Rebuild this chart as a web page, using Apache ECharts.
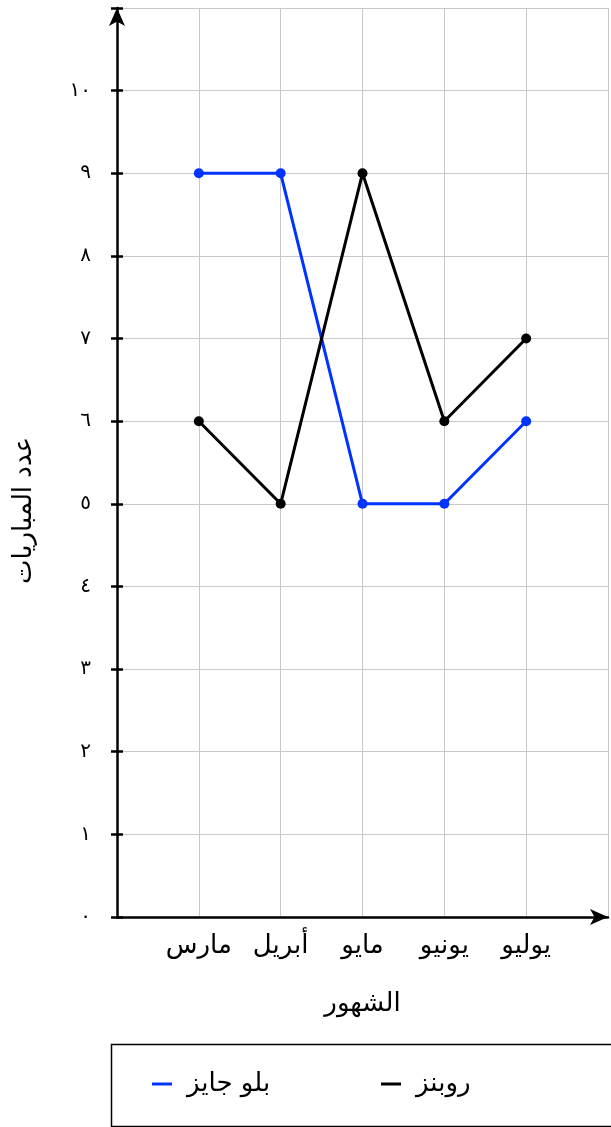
<!DOCTYPE html>
<html>
<head>
<meta charset="utf-8">
<script src="https://cdn.jsdelivr.net/npm/echarts@6/dist/echarts.min.js"></script>
<style>
  html, body { margin: 0; padding: 0; background: #fff; }
  #chart { width: 611px; height: 1127px; }
</style>
</head>
<body>
<div id="chart"></div>
<script>
const months = ["مارس", "أبريل", "مايو", "يونيو", "يوليو"];
const blueJays = [9, 9, 5, 5, 6];
const robins = [6, 5, 9, 6, 7];
const seriesNames = ["بلو جايز", "روبنز"];
const arabicDigits = ["٠","١","٢","٣","٤","٥","٦","٧","٨","٩"];

const toArabic = (n)=>String(n).split("").map(d=>arabicDigits[+d]).join("");
const toPoints = (vals)=>vals.map((v,i)=>[i+1, v]);

const font = "DejaVu Sans";
const textSize = 26;
const chart = echarts.init(document.getElementById("chart"));

const legendBase = (name, left)=>({
   data: [name],
   left: left,
   top: 1066,
   icon: "rect",
   itemWidth: 20,
   itemHeight: 3,
   textStyle: { fontFamily: font, fontSize: textSize, color: "#000", padding: [0, 0, 0, 10] }
});

const option = {
   animation: false,
   grid: { left: 117, right: 0, top: 8, bottom: 210 },
   xAxis: {
      type: "value",
      min: 0, max: 6, interval: 1,
      name: "الشهور",
      nameLocation: "middle",
      nameGap: 74,
      nameTextStyle: { fontFamily: font, fontSize: textSize, color: "#000" },
      axisLine: { lineStyle: { color: "#000", width: 2.5 }, symbol: ["none", "arrow"], symbolSize: [12, 18] },
      axisTick: { show: false },
      axisLabel: {
         fontFamily: font, fontSize: textSize, color: "#000", margin: 16,
         formatter: (v)=>months[v-1] || ""
      },
      splitLine: { show: true, lineStyle: { color: "#c8c8c8", width: 1 } }
   },
   yAxis: [
      {
         type: "value",
         min: 0, max: 11, interval: 1,
         name: "عدد المباريات",
         nameLocation: "middle",
         nameGap: 80,
         nameTextStyle: { fontFamily: font, fontSize: textSize, color: "#000", padding: [0, 96, 0, 0] },
         axisLine: { show: true, lineStyle: { color: "#000", width: 2.5 }, symbol: ["none", "arrow"], symbolSize: [12, 18] },
         axisTick: { show: true, length: 6, lineStyle: { color: "#000", width: 2.5 } },
         axisLabel: {
            fontFamily: font, fontSize: 20, color: "#000", margin: 26,
            formatter: (v)=>v > 10 ? "" : toArabic(v)
         },
         splitLine: { show: true, lineStyle: { color: "#c8c8c8", width: 1 } }
      },
      {
         type: "value",
         min: 0, max: 11, interval: 1,
         position: "left",
         axisLine: { show: false },
         axisTick: { show: true, inside: true, length: 6, lineStyle: { color: "#000", width: 2.5 } },
         axisLabel: { show: false },
         splitLine: { show: false }
      }
   ],
   legend: [legendBase(seriesNames[0], 147), legendBase(seriesNames[1], 376)],
   graphic: [{
      type: "rect",
      left: 109, top: 1042,
      shape: { width: 520, height: 82 },
      style: { fill: "none", stroke: "#000", lineWidth: 1.5 }
   }],
   series: [
      {
         name: seriesNames[0],
         type: "line",
         data: toPoints(blueJays),
         symbol: "circle",
         symbolSize: 10,
         lineStyle: { color: "#0033ff", width: 3 },
         itemStyle: { color: "#0033ff" }
      },
      {
         name: seriesNames[1],
         type: "line",
         data: toPoints(robins),
         symbol: "circle",
         symbolSize: 10,
         lineStyle: { color: "#000", width: 3 },
         itemStyle: { color: "#000" }
      }
   ]
};
chart.setOption(option);
</script>
</body>
</html>
